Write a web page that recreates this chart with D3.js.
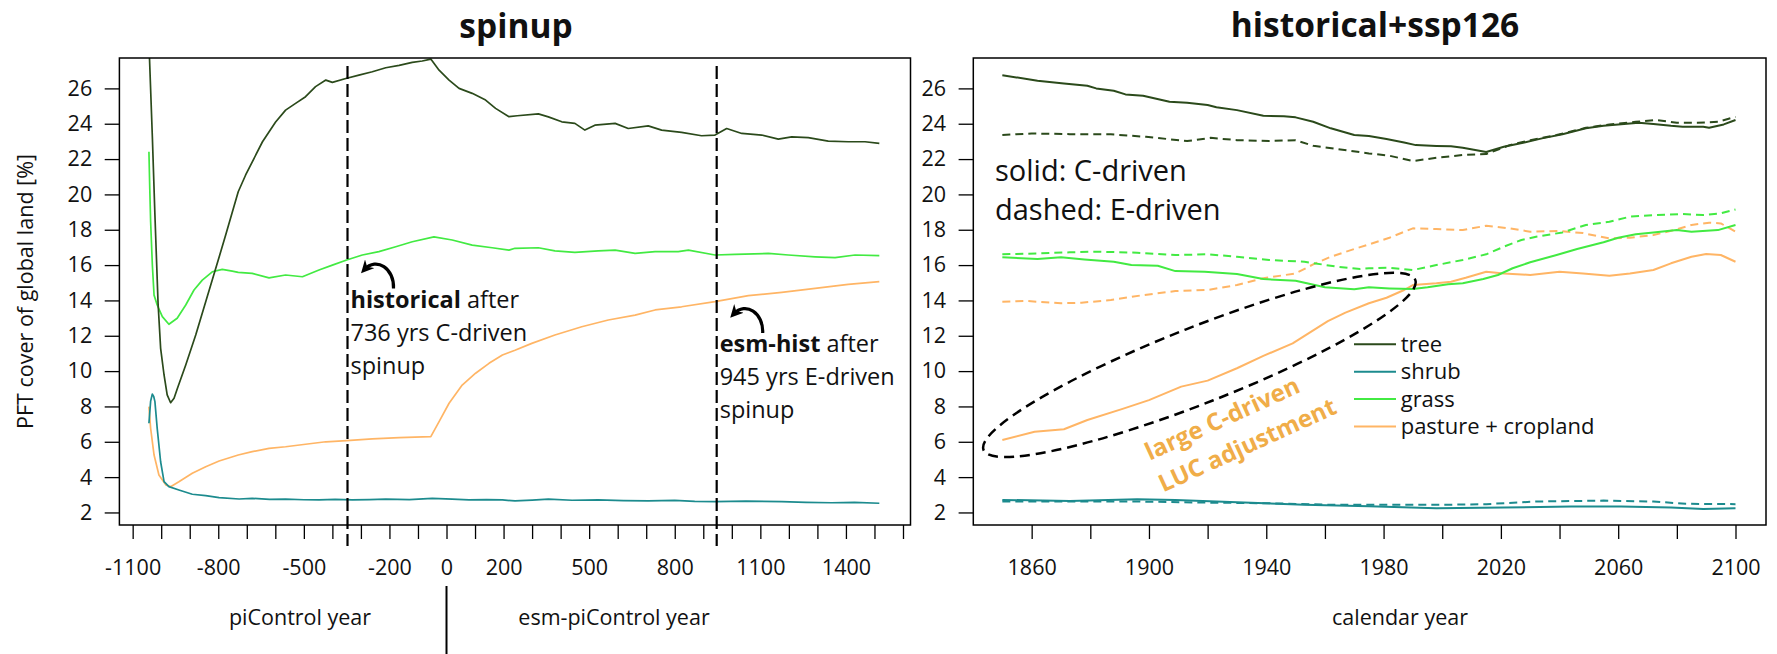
<!DOCTYPE html>
<html>
<head>
<meta charset="utf-8">
<script src="https://cdn.jsdelivr.net/npm/d3@7"></script>
<style>
	body { margin: 0; background: #fff; }
	text { font-family: "Open Sans", sans-serif; fill: #111; }
</style>
</head>
<body>
<svg id="chart" width="1777" height="654"></svg>
<script>
// ---- data: [year, % of global land] ----
var spinupTree = [[-1043, 28.6], [-1031, 23.26], [-1022, 18.83], [-1011, 13.84], [-1002, 11.29], [-990, 9.78],
	[-979, 8.65], [-967, 8.21], [-955, 8.46], [-943, 9.03], [-914, 10.35], [-879, 12.04], [-844, 13.93],
	[-809, 15.8], [-774, 17.7], [-730, 20.15], [-704, 21.1], [-645, 22.98], [-599, 24.1], [-564, 24.77],
	[-529, 25.15], [-494, 25.53], [-459, 26.1], [-423, 26.47], [-400, 26.34], [-353, 26.56], [-307, 26.75],
	[-260, 26.94], [-213, 27.17], [-166, 27.3], [-120, 27.47], [-85, 27.55], [-55, 27.66], [-26, 27.03],
	[9, 26.47], [44, 26.0], [90, 25.72], [137, 25.34], [172, 24.87], [219, 24.4], [248, 24.45], [322, 24.56],
	[357, 24.39], [404, 24.11], [450, 24.02], [485, 23.64], [520, 23.92], [591, 24.02], [637, 23.73],
	[707, 23.88], [754, 23.64], [824, 23.51], [894, 23.32], [941, 23.36], [982, 23.73], [1035, 23.45],
	[1105, 23.36], [1163, 23.13], [1210, 23.26], [1268, 23.21], [1338, 23.02], [1408, 22.98], [1467, 22.98],
	[1517, 22.89]];
var spinupShrub = [[-1043, 7.05], [-1037, 8.3], [-1031, 8.7], [-1026, 8.55], [-1022, 8.27], [-1014, 6.76],
	[-1002, 4.87], [-990, 3.74], [-973, 3.46], [-938, 3.27], [-891, 3.03], [-844, 2.95], [-797, 2.84],
	[-727, 2.76], [-681, 2.8], [-620, 2.74], [-564, 2.75], [-500, 2.72], [-447, 2.71], [-390, 2.74],
	[-330, 2.71], [-270, 2.73], [-213, 2.75], [-130, 2.73], [-50, 2.8], [20, 2.76], [79, 2.71], [140, 2.73],
	[196, 2.71], [240, 2.65], [300, 2.7], [357, 2.75], [440, 2.69], [532, 2.71], [620, 2.67], [707, 2.65],
	[800, 2.68], [870, 2.63], [941, 2.61], [1050, 2.64], [1175, 2.61], [1260, 2.57], [1350, 2.55],
	[1430, 2.57], [1517, 2.52]];
var spinupGrass = [[-1043, 22.41], [-1040, 20.3], [-1037, 18.45], [-1031, 16.0], [-1025, 14.3], [-1014, 13.74],
	[-996, 13.08], [-973, 12.65], [-944, 12.99], [-914, 13.74], [-885, 14.59], [-856, 15.15], [-821, 15.62],
	[-786, 15.76], [-751, 15.66], [-730, 15.59], [-681, 15.53], [-622, 15.28], [-564, 15.44], [-505, 15.34],
	[-447, 15.72], [-400, 16.0], [-350, 16.29], [-295, 16.57], [-237, 16.76], [-178, 17.04], [-120, 17.32],
	[-44, 17.6], [20, 17.42], [90, 17.13], [160, 16.98], [219, 16.85], [240, 16.95], [322, 16.98], [380, 16.8],
	[450, 16.72], [532, 16.8], [591, 16.85], [661, 16.66], [731, 16.76], [812, 16.76], [848, 16.85],
	[941, 16.57], [1011, 16.61], [1128, 16.66], [1198, 16.57], [1292, 16.47], [1362, 16.42], [1432, 16.57],
	[1517, 16.53]];
var spinupPasture = [[-1043, 7.99], [-1037, 6.76], [-1025, 5.25], [-1008, 4.12], [-984, 3.56], [-967, 3.46],
	[-938, 3.74], [-891, 4.22], [-844, 4.59], [-797, 4.91], [-730, 5.25], [-681, 5.44], [-622, 5.63],
	[-564, 5.72], [-494, 5.86], [-423, 6.0], [-350, 6.06], [-260, 6.16], [-166, 6.23], [-55, 6.29],
	[-26, 7.14], [9, 8.18], [55, 9.21], [102, 9.88], [149, 10.44], [196, 10.91], [240, 11.18], [299, 11.57],
	[380, 12.04], [474, 12.51], [567, 12.89], [661, 13.17], [731, 13.46], [824, 13.64], [941, 13.93],
	[1058, 14.27], [1175, 14.46], [1292, 14.68], [1408, 14.91], [1517, 15.06]];

// historical+ssp126, solid = C-driven, dashed = E-driven
var histTreeC = [[1850, 26.75], [1862, 26.43], [1871, 26.28], [1879, 26.15], [1882, 26.0], [1888, 25.87],
	[1892, 25.66], [1898, 25.58], [1907, 25.24], [1913, 25.19], [1920, 25.06], [1923, 24.93], [1930, 24.77],
	[1939, 24.45], [1946, 24.43], [1950, 24.36], [1956, 24.11], [1962, 23.74], [1970, 23.36], [1975, 23.3],
	[1981, 23.13], [1987, 22.94], [1991, 22.79], [1998, 22.74], [2003, 22.72], [2007, 22.64], [2015, 22.4],
	[2021, 22.7], [2028, 22.94], [2034, 23.17], [2041, 23.41], [2049, 23.74], [2055, 23.88], [2062, 23.98],
	[2067, 24.05], [2072, 23.98], [2078, 23.88], [2082, 23.83], [2089, 23.83], [2091, 23.77], [2096, 23.96],
	[2100, 24.21]];
var histTreeE = [[1850, 23.36], [1860, 23.45], [1873, 23.41], [1887, 23.4], [1899, 23.26], [1913, 23.02],
	[1921, 23.2], [1930, 23.07], [1941, 23.02], [1950, 23.07], [1956, 22.75], [1964, 22.57], [1975, 22.32],
	[1982, 22.19], [1990, 21.89], [1998, 22.07], [2007, 22.23], [2015, 22.28], [2017, 22.41], [2023, 22.79],
	[2030, 23.07], [2039, 23.36], [2049, 23.77], [2057, 23.96], [2066, 24.11], [2073, 24.21], [2080, 24.05],
	[2087, 24.05], [2094, 24.11], [2100, 24.39]];
var histShrubC = [[1850, 2.71], [1873, 2.65], [1896, 2.75], [1909, 2.71], [1930, 2.58], [1953, 2.43],
	[1975, 2.35], [1998, 2.24], [2021, 2.28], [2044, 2.33], [2061, 2.33], [2078, 2.28], [2089, 2.2], [2100, 2.24]];
var histShrubE = [[1850, 2.62], [1873, 2.62], [1896, 2.62], [1918, 2.56], [1941, 2.52], [1964, 2.43],
	[1975, 2.43], [1998, 2.43], [2015, 2.47], [2032, 2.62], [2055, 2.67], [2072, 2.62], [2083, 2.49], [2100, 2.47]];
var histGrassC = [[1850, 16.44], [1862, 16.34], [1870, 16.44], [1878, 16.32], [1888, 16.19], [1894, 16.0],
	[1903, 15.96], [1909, 15.66], [1919, 15.62], [1930, 15.49], [1939, 15.21], [1950, 15.11], [1960, 14.74],
	[1970, 14.63], [1975, 14.74], [1982, 14.68], [1990, 14.64], [1995, 14.74], [2002, 14.91], [2007, 14.97],
	[2014, 15.21], [2019, 15.44], [2024, 15.82], [2030, 16.16], [2039, 16.57], [2046, 16.91], [2055, 17.29],
	[2060, 17.55], [2066, 17.74], [2072, 17.85], [2080, 17.98], [2085, 17.89], [2094, 17.98], [2100, 18.27]];
var histGrassE = [[1850, 16.61], [1862, 16.66], [1873, 16.72], [1882, 16.76], [1896, 16.7], [1909, 16.57],
	[1920, 16.61], [1930, 16.47], [1941, 16.29], [1953, 16.19], [1964, 15.91], [1972, 15.78], [1975, 15.82],
	[1982, 15.85], [1990, 15.72], [1998, 16.0], [2007, 16.29], [2015, 16.61], [2021, 17.04], [2027, 17.42],
	[2032, 17.6], [2041, 17.85], [2049, 18.27], [2057, 18.45], [2064, 18.74], [2073, 18.83], [2082, 18.89],
	[2089, 18.83], [2095, 18.93], [2100, 19.15]];
var histPastureC = [[1850, 6.1], [1861, 6.57], [1871, 6.71], [1879, 7.23], [1891, 7.86], [1900, 8.36],
	[1911, 9.12], [1920, 9.46], [1930, 10.16], [1939, 10.86], [1949, 11.57], [1961, 12.83], [1967, 13.31],
	[1975, 13.84], [1981, 14.15], [1987, 14.59], [1990, 14.87], [1998, 14.97], [2003, 15.06], [2008, 15.28],
	[2015, 15.62], [2021, 15.53], [2030, 15.44], [2040, 15.62], [2048, 15.53], [2057, 15.4], [2064, 15.53],
	[2072, 15.72], [2078, 16.1], [2085, 16.47], [2090, 16.63], [2095, 16.57], [2100, 16.19]];
var histPastureE = [[1850, 13.93], [1858, 13.97], [1870, 13.84], [1877, 13.87], [1887, 14.02], [1898, 14.3],
	[1909, 14.53], [1920, 14.59], [1930, 14.87], [1939, 15.25], [1950, 15.53], [1956, 16.04], [1962, 16.47],
	[1970, 16.91], [1975, 17.17], [1982, 17.55], [1990, 18.08], [1998, 18.04], [2007, 17.98], [2015, 18.23],
	[2023, 18.08], [2030, 17.89], [2040, 17.93], [2048, 17.81], [2057, 17.51], [2064, 17.55], [2072, 17.7],
	[2079, 17.98], [2085, 18.27], [2091, 18.4], [2095, 18.36], [2100, 17.89]];

// ---- axes / labels ----
var yTicks = [2, 4, 6, 8, 10, 12, 14, 16, 18, 20, 22, 24, 26];
var spinupTicks = d3.range(-1100, 1700, 100);
var spinupTickLabels = [-1100, -800, -500, -200, 0, 200, 500, 800, 1100, 1400];
var histTicks = d3.range(1860, 2101, 20);
var histTickLabels = [1860, 1900, 1940, 1980, 2020, 2060, 2100];
var branchYears = [-347, 947];   // where historical / esm-hist branch off
var pftNames = ['tree', 'shrub', 'grass', 'pasture + cropland'];

var colors = { tree: '#2b4a1b', shrub: '#1c8b8e', grass: '#42ea42', pasture: '#ffb565' };
var annoOrange = '#f0ad48';

var svg = d3.select('#chart');
svg.append('rect').attr('width', 1777).attr('height', 654).attr('fill', '#fff');

var plotTop = 58, plotBottom = 525;
var yScale = d3.scaleLinear().domain([1.29, 27.72]).range([plotBottom, plotTop]);
var xSpin = d3.scaleLinear().domain([-1146.5, 1626.3]).range([119.4, 910.5]);
var xHist = d3.scaleLinear().domain([1840.1, 2110.4]).range([973.3, 1766]);

svg.append('defs').html(
	'<clipPath id="clipSpin"><rect x="119.4" y="58" width="791.1" height="467"/></clipPath>' +
	'<clipPath id="clipHist"><rect x="973.3" y="58" width="792.7" height="467"/></clipPath>' +
	'<marker id="head" viewBox="0 0 10 10" refX="6" refY="5" markerWidth="4" markerHeight="4" orient="auto">' +
	'<path d="M0,0 L10,5 L0,10 L3,5 Z" fill="#000"/></marker>');

function styleAxis(g) {
	g.select('.domain').remove();
	g.selectAll('.tick line').attr('stroke', '#000').attr('stroke-width', 1.3);
	g.selectAll('.tick text').attr('font-size', '21.5px').attr('font-family', '"Open Sans", sans-serif').attr('fill', '#111');
}

function drawPanel(x, clipId, labelSet, ticks) {
	svg.append('g')
		.attr('transform', 'translate(' + x.range()[0] + ',0)')
		.call(d3.axisLeft(yScale).tickValues(yTicks).tickSize(14.7).tickPadding(12.5))
		.call(styleAxis);

	svg.append('g')
		.attr('transform', 'translate(0,' + plotBottom + ')')
		.call(d3.axisBottom(x).tickValues(ticks).tickSize(14).tickPadding(21)
			.tickFormat(function(d) { return labelSet.indexOf(d) >= 0 ? d : ''; }))
		.call(styleAxis);

	var plot = svg.append('g').attr('clip-path', 'url(#' + clipId + ')');

	svg.append('rect')
		.attr('x', x.range()[0]).attr('y', plotTop)
		.attr('width', x.range()[1] - x.range()[0]).attr('height', plotBottom - plotTop)
		.attr('fill', 'none').attr('stroke', '#000').attr('stroke-width', 1.5);
	return plot;
}

function drawLine(plot, x, data, color, width, dash) {
	var line = d3.line()
		.x(function(d) { return x(d[0]); })
		.y(function(d) { return yScale(d[1]); });
	plot.append('path')
		.datum(data)
		.attr('d', line)
		.attr('fill', 'none')
		.attr('stroke', color)
		.attr('stroke-width', width)
		.attr('stroke-linejoin', 'round')
		.attr('stroke-dasharray', dash || null);
}

// ---------- spinup panel ----------
var spin = drawPanel(xSpin, 'clipSpin', spinupTickLabels, spinupTicks);
drawLine(spin, xSpin, spinupPasture, colors.pasture, 1.7);
drawLine(spin, xSpin, spinupShrub, colors.shrub, 1.7);
drawLine(spin, xSpin, spinupGrass, colors.grass, 1.7);
drawLine(spin, xSpin, spinupTree, colors.tree, 1.7);

branchYears.forEach(function(yr) {
	svg.append('line')
		.attr('x1', xSpin(yr)).attr('x2', xSpin(yr))
		.attr('y1', 66).attr('y2', 546)
		.attr('stroke', '#000').attr('stroke-width', 2.2)
		.attr('stroke-dasharray', '13,5');
});

function branchNote(yr, ty, boldWord, lines) {
	var tx = xSpin(yr) + 3;
	var t = svg.append('text').attr('x', tx).attr('y', ty).attr('font-size', '23.5px');
	t.append('tspan').attr('font-weight', 'bold').text(boldWord);
	t.append('tspan').text(' after');
	lines.forEach(function(s, i) {
		svg.append('text').attr('x', tx).attr('y', ty + 33 * (i + 1)).attr('font-size', '23.5px').text(s);
	});
	var ax = tx + 43, ay = ty - 19;
	svg.append('path')
		.attr('d', 'M' + ax + ',' + ay + ' C' + (ax + 1) + ',' + (ay - 20) + ' ' + (ax - 17) + ',' + (ay - 32) +
			' ' + (ax - 29) + ',' + (ay - 19))
		.attr('fill', 'none').attr('stroke', '#000').attr('stroke-width', 3.2)
		.attr('marker-end', 'url(#head)');
}
branchNote(branchYears[0], 307.5, 'historical', ['736 yrs C-driven', 'spinup']);
branchNote(branchYears[1], 352, 'esm-hist', ['945 yrs E-driven', 'spinup']);

svg.append('text').attr('x', 516).attr('y', 38).attr('text-anchor', 'middle')
	.attr('font-size', '33.5px').attr('font-weight', 'bold').text('spinup');
svg.append('text').attr('x', 300).attr('y', 625).attr('text-anchor', 'middle')
	.attr('font-size', '21.5px').text('piControl year');
svg.append('text').attr('x', 614).attr('y', 625).attr('text-anchor', 'middle')
	.attr('font-size', '21.5px').text('esm-piControl year');
svg.append('line')
	.attr('x1', xSpin(0)).attr('x2', xSpin(0)).attr('y1', 586).attr('y2', 654)
	.attr('stroke', '#000').attr('stroke-width', 2);
svg.append('text')
	.attr('transform', 'translate(32.5,' + ((plotTop + plotBottom) / 2) + ') rotate(-90)')
	.attr('text-anchor', 'middle').attr('font-size', '21.5px')
	.text('PFT cover of global land [%]');

// ---------- historical+ssp126 panel ----------
var hist = drawPanel(xHist, 'clipHist', histTickLabels, histTicks);
var dash = '8,5';
drawLine(hist, xHist, histShrubE, colors.shrub, 2, dash);
drawLine(hist, xHist, histShrubC, colors.shrub, 2);
drawLine(hist, xHist, histPastureE, colors.pasture, 2, dash);
drawLine(hist, xHist, histPastureC, colors.pasture, 2);
drawLine(hist, xHist, histGrassE, colors.grass, 2, dash);
drawLine(hist, xHist, histGrassC, colors.grass, 2);
drawLine(hist, xHist, histTreeE, colors.tree, 2, dash);
drawLine(hist, xHist, histTreeC, colors.tree, 2);

// ellipse round the pasture adjustment (centre in data units, radii in px)
svg.append('ellipse')
	.attr('transform', 'translate(' + xHist(1917.2) + ',' + yScale(10.35) + ') rotate(-21.5)')
	.attr('rx', 232).attr('ry', 38)
	.attr('fill', 'none').attr('stroke', '#000').attr('stroke-width', 2.5)
	.attr('stroke-dasharray', '10,6');

[['large C-driven', 1221.7, 417.5], ['LUC adjustment', 1246.7, 444]].forEach(function(d) {
	svg.append('text')
		.attr('transform', 'translate(' + d[1] + ',' + d[2] + ') rotate(-24.5)')
		.attr('text-anchor', 'middle').attr('dominant-baseline', 'central')
		.attr('font-size', '24px').attr('font-weight', 'bold')
		.style('fill', annoOrange).text(d[0]);
});

svg.append('text').attr('x', 995).attr('y', 181).attr('font-size', '29px').text('solid: C-driven');
svg.append('text').attr('x', 995).attr('y', 220).attr('font-size', '29px').text('dashed: E-driven');

var legendColors = [colors.tree, colors.shrub, colors.grass, colors.pasture];
var legend = svg.append('g').selectAll('g').data(pftNames).enter().append('g')
	.attr('transform', function(d, i) { return 'translate(1354,' + (344.3 + i * 27.4) + ')'; });
legend.append('line').attr('x1', 0).attr('x2', 42)
	.attr('stroke', function(d, i) { return legendColors[i]; }).attr('stroke-width', 2);
legend.append('text').attr('x', 46.7).attr('dy', '0.35em').attr('font-size', '22px')
	.text(function(d) { return d; });

svg.append('text').attr('x', 1375).attr('y', 37).attr('text-anchor', 'middle')
	.attr('font-size', '33.5px').attr('font-weight', 'bold').text('historical+ssp126');
svg.append('text').attr('x', 1400).attr('y', 625).attr('text-anchor', 'middle')
	.attr('font-size', '21.5px').text('calendar year');
</script>
</body>
</html>
